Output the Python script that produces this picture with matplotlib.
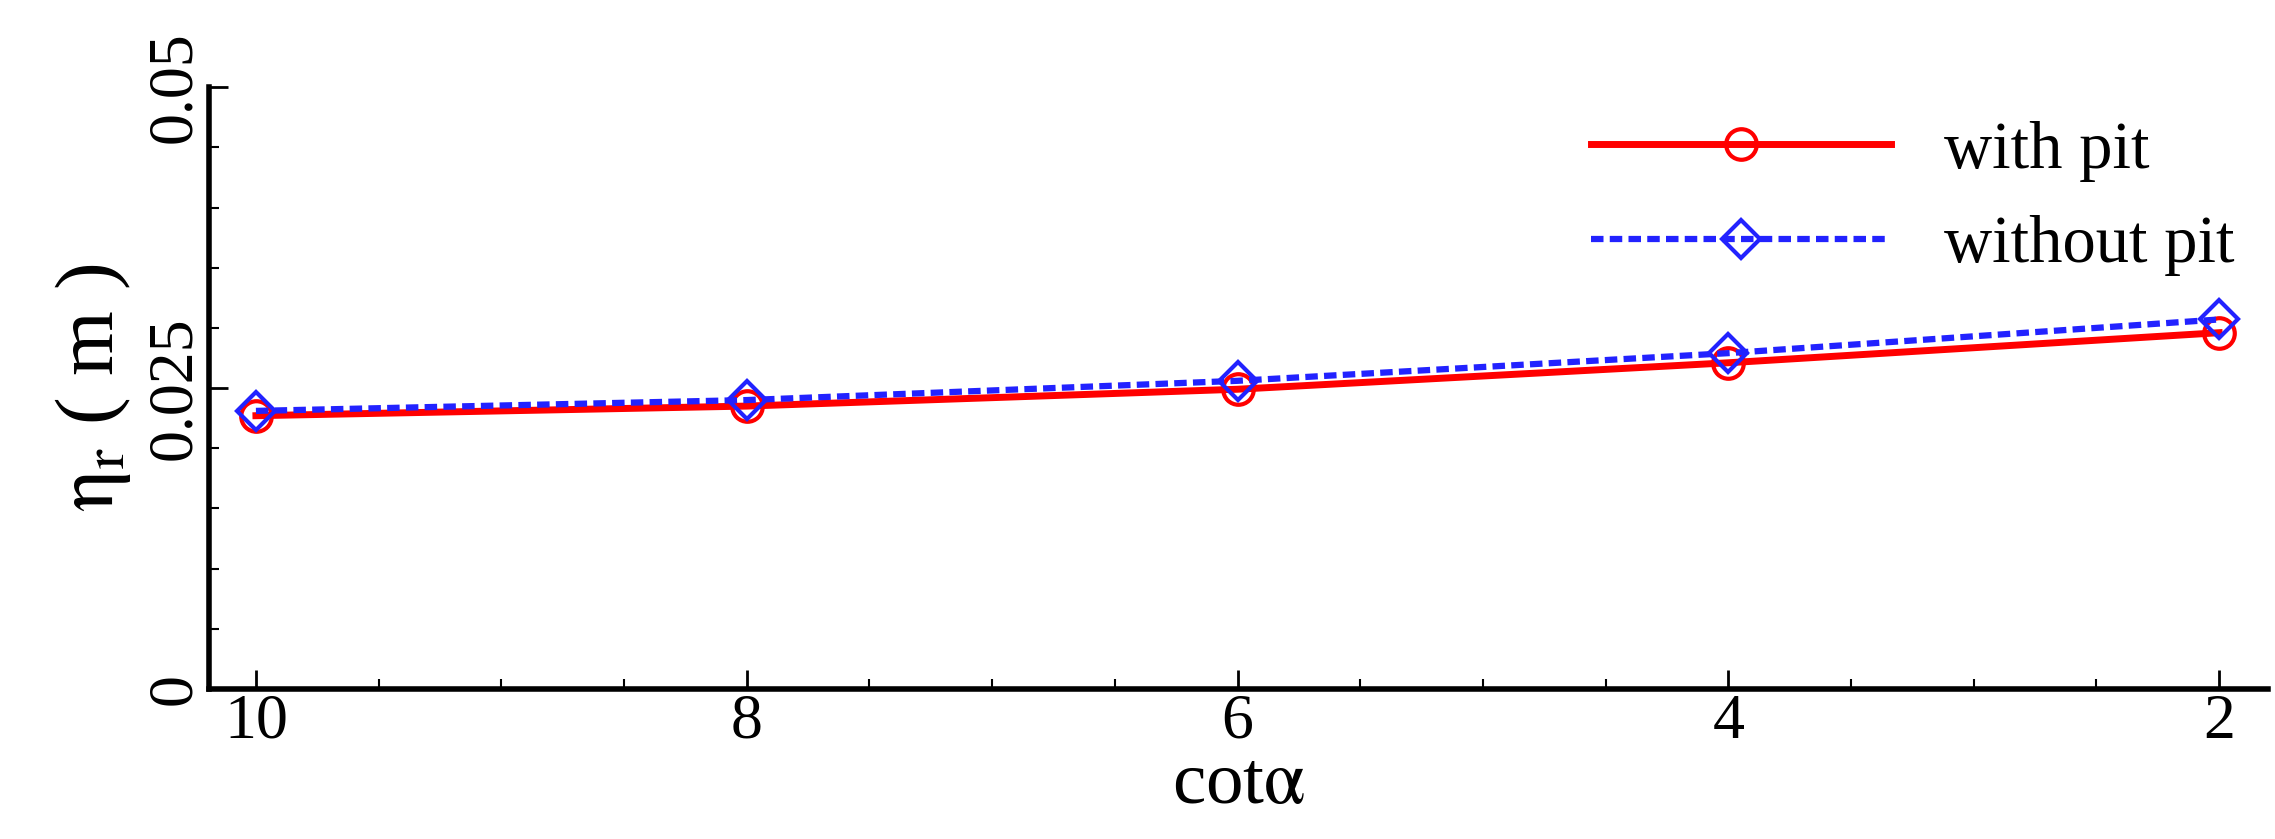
import matplotlib
matplotlib.use("Agg")
import matplotlib.pyplot as plt
from matplotlib.ticker import MultipleLocator

cot = [10, 8, 6, 4, 2]
with_pit = [0.0227, 0.0235, 0.0249, 0.0271, 0.0296]
without_pit = [0.0231, 0.0240, 0.0256, 0.0279, 0.0307]

plt.rcParams['font.family'] = ['Liberation Serif', 'DejaVu Serif']
plt.rcParams['mathtext.fontset'] = 'stix'
fig = plt.figure(figsize=(22.75, 8.39), dpi=100)
ax = fig.add_axes([0.092, 0.179, 0.905, 0.717])
ax.plot(cot, with_pit, color='red', lw=5, marker='o', ms=22, mfc='none', mew=3, label='with pit')
ax.plot(cot, without_pit, color='#2222ff', lw=4.5, ls=(0, (2, 1)), marker='D', ms=19, mfc='none', mew=3, label='without pit')
ax.set_xlim(10.19, 1.80)
ax.set_ylim(0, 0.05)
ax.xaxis.set_major_locator(MultipleLocator(2))
ax.xaxis.set_minor_locator(MultipleLocator(0.5))
ax.yaxis.set_minor_locator(MultipleLocator(0.005))
ax.set_yticks([0, 0.025, 0.05])
ax.set_yticklabels(['0', '0.025', '0.05'], rotation=90, va='center')
ax.set_xticks(cot)
ax.set_xticklabels([str(c) for c in cot])
ax.tick_params(which='major', direction='in', length=14, width=2, labelsize=46)
ax.tick_params(which='minor', direction='in', length=7, width=1.5)
for s in ['top', 'right']:
    ax.spines[s].set_visible(False)
for s in ['left', 'bottom']:
    ax.spines[s].set_linewidth(4)
ax.set_xlabel(r'cot$\mathrm{\alpha}$', fontsize=54, labelpad=0)
ax.set_ylabel(r'$\mathrm{\eta_r}$ ( m )', fontsize=60, labelpad=10)
leg = ax.legend(loc='upper right', fontsize=48, frameon=False, handlelength=4.5, borderaxespad=0.1)
fig.savefig('out.png')
